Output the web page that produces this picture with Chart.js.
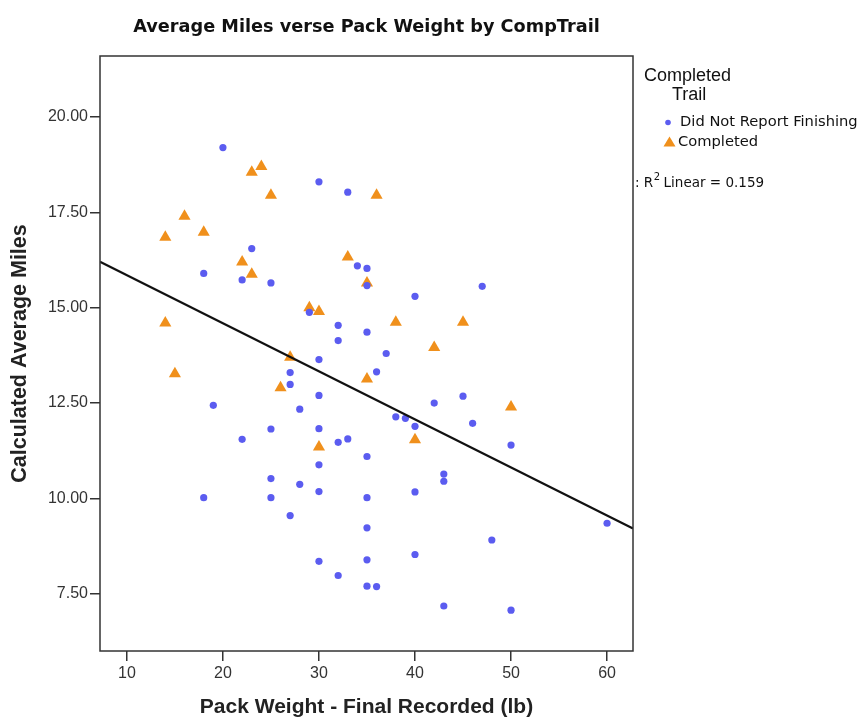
<!DOCTYPE html>
<html>
<head>
<meta charset="UTF-8">
<title>Average Miles verse Pack Weight by CompTrail</title>
<script src="https://cdn.jsdelivr.net/npm/chart.js"></script>
<style>
  html, body { margin: 0; padding: 0; background: #fff; }
  canvas { display: block; }
</style>
</head>
<body>
<canvas id="chart" width="863" height="720"></canvas>
<script>
// pack weight (lb) and calculated average miles, hikers who did not report finishing
const notFinishedWeight = [20, 30, 33, 23, 34, 35, 18, 22, 25, 35, 47, 40, 29, 32, 35, 32, 37, 30, 27, 36,
  27, 30, 45, 42, 19, 28, 38, 39, 46, 40, 25, 30, 22, 33, 32, 50, 35, 30, 43, 25,
  43, 28, 30, 40, 18, 25, 35, 27, 60, 35, 48, 40, 35, 30, 32, 35, 36, 43, 50];
const notFinishedMiles = [19.2, 18.3, 18.03, 16.55, 16.1, 16.03, 15.9, 15.73, 15.65, 15.58, 15.56, 15.3, 14.88, 14.54, 14.36, 14.14, 13.8, 13.64, 13.3, 13.32,
  12.99, 12.7, 12.68, 12.5, 12.44, 12.34, 12.14, 12.1, 11.97, 11.89, 11.82, 11.83, 11.55, 11.56, 11.47, 11.4, 11.1, 10.88, 10.64, 10.52,
  10.45, 10.37, 10.18, 10.17, 10.02, 10.02, 10.02, 9.55, 9.35, 9.23, 8.91, 8.53, 8.39, 8.35, 7.98, 7.7, 7.69, 7.18, 7.07];

// hikers who completed the trail
const completedWeight = [24, 23, 25, 36, 16, 18, 14, 33, 22, 23, 35, 29, 30, 38, 45, 14, 42, 27, 15, 35, 26, 50, 40, 30];
const completedMiles = [18.7, 18.55, 17.95, 17.95, 17.4, 16.98, 16.85, 16.33, 16.2, 15.88, 15.65, 15.0, 14.9, 14.62, 14.62, 14.6, 13.96, 13.7, 13.27, 13.13, 12.9, 12.4, 11.54, 11.35];

const xTicks = [10, 20, 30, 40, 50, 60];
const yTicks = [7.5, 10, 12.5, 15, 17.5, 20];
const xRange = [7.2, 62.7];
const yRange = [6.0, 21.6];

// linear fit over all hikers
const fitIntercept = 17.11;
const fitSlope = -0.126;
const fitR2 = 0.159;

const BLUE = '#5b5cf0';
const ORANGE = '#f0901c';

const toPoints = (xs, ys) => xs.map((x, i) => ({ x: x, y: ys[i] }));
const fitLine = xRange.map(x => ({ x: x, y: fitIntercept + fitSlope * x }));

// box around the plot area
const plotFrame = {
  id: 'plotFrame',
  afterDatasetsDraw(chart) {
    const { ctx, chartArea: a } = chart;
    ctx.save();
    ctx.strokeStyle = '#333';
    ctx.lineWidth = 1.5;
    ctx.strokeRect(a.left, a.top, a.right - a.left, a.bottom - a.top);
    ctx.restore();
  }
};

// title, legend and R² note
const sideText = {
  id: 'sideText',
  afterDraw(chart) {
    const { ctx, chartArea: a } = chart;
    ctx.save();
    ctx.fillStyle = '#111';
    ctx.textBaseline = 'middle';

    ctx.font = 'bold 17.7px "DejaVu Sans"';
    ctx.textAlign = 'center';
    ctx.fillText('Average Miles verse Pack Weight by CompTrail', (a.left + a.right) / 2, 27);

    ctx.textAlign = 'left';
    ctx.font = '18px "Liberation Sans"';
    ctx.fillText('Completed', 644, 76);
    ctx.fillText('Trail', 672, 95);

    // legend markers
    ctx.fillStyle = BLUE;
    ctx.beginPath();
    ctx.arc(668, 122.5, 2.8, 0, Math.PI * 2);
    ctx.fill();
    ctx.fillStyle = ORANGE;
    ctx.beginPath();
    ctx.moveTo(669.5, 136.5);
    ctx.lineTo(675.5, 146.5);
    ctx.lineTo(663.5, 146.5);
    ctx.closePath();
    ctx.fill();

    ctx.fillStyle = '#111';
    ctx.font = '14.7px "DejaVu Sans"';
    ctx.fillText('Did Not Report Finishing', 680, 122.5);
    ctx.fillText('Completed', 678, 142.5);

    // fit note with superscript
    ctx.font = '13.5px "DejaVu Sans"';
    ctx.fillText(': R', 635, 183);
    let x = 635 + ctx.measureText(': R').width;
    ctx.font = '10px "DejaVu Sans"';
    ctx.fillText('2', x + 0.5, 177);
    x += ctx.measureText('2').width + 4;
    ctx.font = '13.5px "DejaVu Sans"';
    ctx.fillText('Linear = ' + fitR2.toFixed(3), x, 183);
    ctx.restore();
  }
};

new Chart(document.getElementById('chart'), {
  type: 'scatter',
  data: {
    datasets: [
      {
        type: 'line',
        label: 'Linear fit',
        data: fitLine,
        borderColor: '#111',
        borderWidth: 2.2,
        pointRadius: 0,
        fill: false
      },
      {
        label: 'Did Not Report Finishing',
        data: toPoints(notFinishedWeight, notFinishedMiles),
        backgroundColor: BLUE,
        borderColor: BLUE,
        pointStyle: 'circle',
        pointRadius: 3.6,
        borderWidth: 0
      },
      {
        label: 'Completed',
        data: toPoints(completedWeight, completedMiles),
        backgroundColor: ORANGE,
        borderColor: ORANGE,
        pointStyle: 'triangle',
        pointRadius: 7,
        borderWidth: 0
      }
    ]
  },
  options: {
    responsive: false,
    animation: false,
    layout: { padding: { left: 0, right: 230, top: 56, bottom: 0 } },
    plugins: {
      legend: { display: false },
      tooltip: { enabled: false },
      title: { display: false }
    },
    scales: {
      x: {
        type: 'linear',
        min: xRange[0],
        max: xRange[1],
        afterBuildTicks: s => { s.ticks = xTicks.map(v => ({ value: v })); },
        afterFit: s => { s.height = 69; },
        border: { display: false },
        grid: { drawOnChartArea: false, drawTicks: true, tickLength: 10, color: '#333', lineWidth: 1.5 },
        ticks: { color: '#333', font: { family: 'Liberation Sans', size: 16 }, padding: 3, maxRotation: 0 },
        title: {
          display: true,
          text: 'Pack Weight - Final Recorded (lb)',
          color: '#222',
          font: { family: 'Liberation Sans', size: 21, weight: 'bold' },
          padding: { top: 0, bottom: 0 }
        }
      },
      y: {
        type: 'linear',
        min: yRange[0],
        max: yRange[1],
        afterBuildTicks: s => { s.ticks = yTicks.map(v => ({ value: v })); },
        afterFit: s => { s.width = 100; },
        border: { display: false },
        grid: { drawOnChartArea: false, drawTicks: true, tickLength: 10, color: '#333', lineWidth: 1.5 },
        ticks: {
          color: '#333',
          font: { family: 'Liberation Sans', size: 16 },
          padding: 2,
          callback: v => v.toFixed(2)
        },
        title: {
          display: true,
          text: 'Calculated Average Miles',
          color: '#222',
          font: { family: 'Liberation Sans', size: 21.5, weight: 'bold' },
          padding: { top: 7, bottom: 0 }
        }
      }
    }
  },
  plugins: [plotFrame, sideText]
});
</script>
</body>
</html>
